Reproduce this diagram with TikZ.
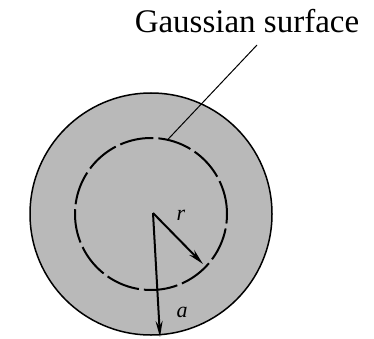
\documentclass[tikz,border=0pt]{standalone}
\usepackage{fontspec}
\setmainfont{Liberation Serif}
\usetikzlibrary{arrows.meta}
\begin{document}
\begin{tikzpicture}[x=1pt,y=-1pt,
  body/.style={draw=black,line width=1.5pt,fill=gray!55},
  gsurf/.style={draw=black,line width=2pt,dash pattern=on 34pt off 5pt},
  radius arrow/.style={line width=2pt,-{Stealth[length=16pt,width=7pt]}},
  leader/.style={line width=1pt}]
\useasboundingbox (0,0) rectangle (374,339);
\coordinate (O) at (151,214);
\node[circle,body,minimum size=242pt,inner sep=0pt] (outer) at (O) {};
\node[circle,gsurf,minimum size=152pt,inner sep=0pt] (inner) at (O) {};
\coordinate (c) at (153,213);
\coordinate (rend) at (203,264);
\coordinate (aend) at (160,337);
\draw[radius arrow] (c) -- (rend);
\draw[radius arrow] (c) -- (aend);
\node[font=\fontsize{22}{24}\selectfont\itshape] (rlab) at (181,215) {r};
\node[font=\fontsize{22}{24}\selectfont\itshape] (alab) at (182,312) {a};
\node[font=\fontsize{33}{36}\selectfont,anchor=base] (title) at (247,33) {Gaussian surface};
\coordinate (lt) at (257,45);
\draw[leader] (lt) -- (inner.77);
\end{tikzpicture}
\end{document}
